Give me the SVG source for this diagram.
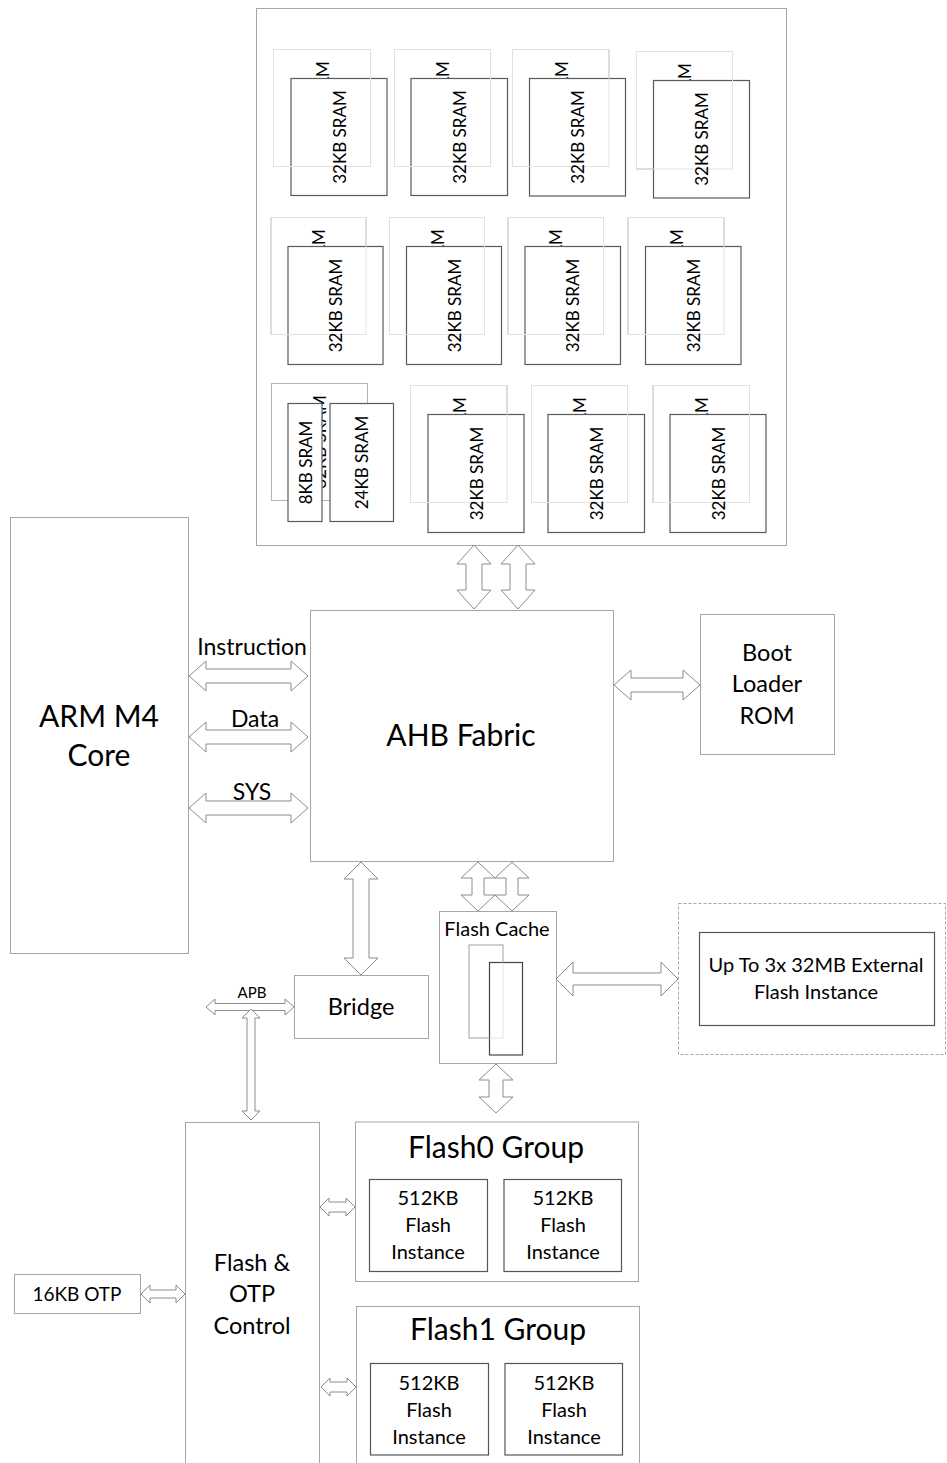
<svg xmlns="http://www.w3.org/2000/svg" width="947" height="1463" viewBox="0 0 947 1463">
<style>
text{font-family:Lato,"Open Sans","Liberation Sans",sans-serif;fill:#000;text-anchor:middle}
.box{fill:#fff;stroke:#a6a6a6;stroke-width:1}
.back{fill:#fff;stroke:#b3b3b3;stroke-width:1}
.ghost{fill:none;stroke:#e2e2e2;stroke-width:1}
.front{fill:#fff;stroke:#5a5a5a;stroke-width:1.2}
.dark{fill:#fff;stroke:#555;stroke-width:1.2}
.arr{fill:#fff;stroke:#8c8c8c;stroke-width:1}
.arrn{fill:none;stroke:#8c8c8c;stroke-width:1}
.sr{font-size:17px;dominant-baseline:central}
.big{font-size:30px}
.mid{font-size:23.5px}
.sm{font-size:20px}
</style>
<rect width="947" height="1463" fill="#fff"/>

<g id="sram-array">
<rect class="box" x="256.5" y="8.5" width="530" height="537"/>
<g id="sram-r1c1">
<rect class="back" x="273.5" y="49.5" width="97" height="117"/>
<text class="sr" transform="translate(322,108) rotate(-90)">32KB SRAM</text>
<rect class="front" x="291" y="78.5" width="96" height="117"/>
<rect class="ghost" x="273.5" y="49.5" width="97" height="117"/>
<text class="sr" transform="translate(339,137) rotate(-90)">32KB SRAM</text>
</g>
<g id="sram-r1c2">
<rect class="back" x="394.5" y="49.5" width="96" height="117"/>
<text class="sr" transform="translate(442.5,108) rotate(-90)">32KB SRAM</text>
<rect class="front" x="411" y="78.5" width="96.5" height="117"/>
<rect class="ghost" x="394.5" y="49.5" width="96" height="117"/>
<text class="sr" transform="translate(459,137) rotate(-90)">32KB SRAM</text>
</g>
<g id="sram-r1c3">
<rect class="back" x="512.5" y="49.5" width="96.5" height="117"/>
<text class="sr" transform="translate(561,108) rotate(-90)">32KB SRAM</text>
<rect class="front" x="529.5" y="78.5" width="96" height="117.5"/>
<rect class="ghost" x="512.5" y="49.5" width="96.5" height="117"/>
<text class="sr" transform="translate(577.5,137) rotate(-90)">32KB SRAM</text>
</g>
<g id="sram-r1c4">
<rect class="back" x="636.5" y="51.5" width="96" height="117.5"/>
<text class="sr" transform="translate(684.5,110) rotate(-90)">32KB SRAM</text>
<rect class="front" x="653.5" y="80.5" width="96" height="117.5"/>
<rect class="ghost" x="636.5" y="51.5" width="96" height="117.5"/>
<text class="sr" transform="translate(701.5,139) rotate(-90)">32KB SRAM</text>
</g>
<g id="sram-r2c1">
<rect class="back" x="271" y="217.5" width="95" height="117"/>
<text class="sr" transform="translate(318.5,276) rotate(-90)">32KB SRAM</text>
<rect class="front" x="288" y="246.5" width="95" height="118"/>
<rect class="ghost" x="271" y="217.5" width="95" height="117"/>
<text class="sr" transform="translate(335.5,305.5) rotate(-90)">32KB SRAM</text>
</g>
<g id="sram-r2c2">
<rect class="back" x="389.5" y="217.5" width="95" height="117"/>
<text class="sr" transform="translate(437,276) rotate(-90)">32KB SRAM</text>
<rect class="front" x="406.5" y="246.5" width="95" height="118"/>
<rect class="ghost" x="389.5" y="217.5" width="95" height="117"/>
<text class="sr" transform="translate(454,305.5) rotate(-90)">32KB SRAM</text>
</g>
<g id="sram-r2c3">
<rect class="back" x="508" y="217.5" width="95.5" height="117"/>
<text class="sr" transform="translate(555.5,276) rotate(-90)">32KB SRAM</text>
<rect class="front" x="525" y="246.5" width="95.5" height="118"/>
<rect class="ghost" x="508" y="217.5" width="95.5" height="117"/>
<text class="sr" transform="translate(572.5,305.5) rotate(-90)">32KB SRAM</text>
</g>
<g id="sram-r2c4">
<rect class="back" x="628" y="217.5" width="96" height="117"/>
<text class="sr" transform="translate(676,276) rotate(-90)">32KB SRAM</text>
<rect class="front" x="645.5" y="246.5" width="95.5" height="118"/>
<rect class="ghost" x="628" y="217.5" width="96" height="117"/>
<text class="sr" transform="translate(693,305.5) rotate(-90)">32KB SRAM</text>
</g>
<g id="sram-r3c1">
<rect class="back" x="271.5" y="383.5" width="96" height="117"/>
<text class="sr" transform="translate(319.5,442) rotate(-90)">32KB SRAM</text>
<rect class="front" x="288" y="403.5" width="34" height="118"/>
<rect class="front" x="330" y="403.5" width="63.5" height="118"/>
<text class="sr" transform="translate(305,462.5) rotate(-90)">8KB SRAM</text>
<text class="sr" transform="translate(361.5,462.5) rotate(-90)">24KB SRAM</text>
</g>
<g id="sram-r3c2">
<rect class="back" x="410.5" y="385.5" width="96.5" height="117"/>
<text class="sr" transform="translate(459,444) rotate(-90)">32KB SRAM</text>
<rect class="front" x="428" y="414.5" width="96" height="118"/>
<rect class="ghost" x="410.5" y="385.5" width="96.5" height="117"/>
<text class="sr" transform="translate(476,473.5) rotate(-90)">32KB SRAM</text>
</g>
<g id="sram-r3c3">
<rect class="back" x="531.5" y="385.5" width="96" height="117"/>
<text class="sr" transform="translate(579.5,444) rotate(-90)">32KB SRAM</text>
<rect class="front" x="548" y="414.5" width="96.5" height="118"/>
<rect class="ghost" x="531.5" y="385.5" width="96" height="117"/>
<text class="sr" transform="translate(596,473.5) rotate(-90)">32KB SRAM</text>
</g>
<g id="sram-r3c4">
<rect class="back" x="653" y="385.5" width="96.5" height="117"/>
<text class="sr" transform="translate(701,444) rotate(-90)">32KB SRAM</text>
<rect class="front" x="670" y="414.5" width="96" height="118"/>
<rect class="ghost" x="653" y="385.5" width="96.5" height="117"/>
<text class="sr" transform="translate(718,473.5) rotate(-90)">32KB SRAM</text>
</g>
</g>

<g id="arm-core">
<rect class="box" x="10.5" y="517.5" width="178" height="436"/>
<text class="big" x="99" y="727">ARM M4</text>
<text class="big" x="99" y="766">Core</text>
</g>

<g id="ahb-fabric">
<rect class="box" x="310.5" y="610.5" width="303" height="251"/>
<text class="big" x="461" y="746">AHB Fabric</text>
</g>

<g id="boot-rom">
<rect class="box" x="700.5" y="614.5" width="134" height="140"/>
<text class="mid" x="767" y="661">Boot</text>
<text class="mid" x="767" y="692">Loader</text>
<text class="mid" x="767" y="724">ROM</text>
</g>

<g id="bridge">
<rect class="box" x="294.5" y="975.5" width="134" height="63"/>
<text class="mid" x="361" y="1015">Bridge</text>
</g>

<g id="flash-cache">
<rect class="box" x="439.5" y="911.5" width="117" height="152"/>
<text class="sm" x="497" y="936">Flash Cache</text>
<rect x="469" y="945" width="34" height="93" fill="#fff" stroke="#a0a0a0"/>
<rect x="489.5" y="962.5" width="33" height="92.5" fill="#fff" stroke="#444" stroke-width="1.2"/>
<path d="M489.5 1038 H503 M503 962.5 V1038" fill="none" stroke="#e2e2e2"/>
</g>

<g id="external-flash">
<rect x="678.5" y="903.5" width="267" height="151" fill="none" stroke="#a6a6a6" stroke-dasharray="3,2"/>
<rect class="dark" x="699.5" y="932.5" width="235" height="93"/>
<text class="sm" x="816" y="972">Up To 3x 32MB External</text>
<text class="sm" x="816" y="999">Flash Instance</text>
</g>

<g id="flash-otp-control">
<rect class="box" x="185.5" y="1122.5" width="134" height="350"/>
<text class="mid" x="252" y="1271">Flash &amp;</text>
<text class="mid" x="252" y="1302">OTP</text>
<text class="mid" x="252" y="1334">Control</text>
</g>

<g id="otp">
<rect class="box" x="14.5" y="1274.5" width="126" height="39"/>
<text x="77" y="1301" font-size="19">16KB OTP</text>
</g>

<g id="flash0-group">
<rect class="box" x="355.5" y="1122" width="283" height="159.5"/>
<text class="big" x="496" y="1158">Flash0 Group</text>
<rect class="dark" x="369.5" y="1179.5" width="118" height="92"/>
<text class="sm" x="428" y="1205">512KB</text>
<text class="sm" x="428" y="1232">Flash</text>
<text class="sm" x="428" y="1259">Instance</text>
<rect class="dark" x="504" y="1179.5" width="117.5" height="92"/>
<text class="sm" x="563" y="1205">512KB</text>
<text class="sm" x="563" y="1232">Flash</text>
<text class="sm" x="563" y="1259">Instance</text>
</g>

<g id="flash1-group">
<rect class="box" x="356.5" y="1306.5" width="283" height="170"/>
<text class="big" x="498" y="1340">Flash1 Group</text>
<rect class="dark" x="370.5" y="1363.5" width="118" height="91.5"/>
<text class="sm" x="429" y="1390">512KB</text>
<text class="sm" x="429" y="1417">Flash</text>
<text class="sm" x="429" y="1444">Instance</text>
<rect class="dark" x="505" y="1363.5" width="117.5" height="91.5"/>
<text class="sm" x="564" y="1390">512KB</text>
<text class="sm" x="564" y="1417">Flash</text>
<text class="sm" x="564" y="1444">Instance</text>
</g>

<g id="connectors">
<path class="arr" d="M474 545 L491 564 L482 564 L482 590 L491 590 L474 609 L457 590 L466 590 L466 564 L457 564 Z"/>
<path class="arr" d="M518 545 L535 564 L526 564 L526 590 L535 590 L518 609 L501 590 L510 590 L510 564 L501 564 Z"/>
<path class="arr" d="M189 676 L206 661 L206 669 L291 669 L291 661 L308 676 L291 691 L291 683 L206 683 L206 691 Z"/>
<path class="arr" d="M189 737 L206 722 L206 730 L291 730 L291 722 L308 737 L291 752 L291 744 L206 744 L206 752 Z"/>
<path class="arr" d="M189 808 L206 793 L206 801 L291 801 L291 793 L308 808 L291 823 L291 815 L206 815 L206 823 Z"/>
<path class="arr" d="M614 685 L631 670 L631 678 L683 678 L683 670 L700 685 L683 700 L683 692 L631 692 L631 700 Z"/>
<path class="arr" d="M361 862 L378 879 L369 879 L369 958 L378 958 L361 975 L344 958 L353 958 L353 879 L344 879 Z"/>
<path class="arrn" d="M478 862 L495 878 L484 878 L484 895 L495 895 L478 911 L461 895 L472 895 L472 878 L461 878 Z"/>
<path class="arrn" d="M512 862 L529 878 L518 878 L518 895 L529 895 L512 911 L495 895 L506 895 L506 878 L495 878 Z"/>
<path class="arr" d="M556 979 L573 962 L573 973 L661 973 L661 962 L678 979 L661 996 L661 985 L573 985 L573 996 Z"/>
<path class="arr" d="M496 1064 L513 1080 L503 1080 L503 1097 L513 1097 L496 1113 L479 1097 L489 1097 L489 1080 L479 1080 Z"/>
<path class="arr" d="M206 1007 L215 999 L215 1003.5 L285 1003.5 L285 999 L294 1007 L285 1015 L285 1010.5 L215 1010.5 L215 1015 Z"/>
<path class="arr" d="M251 1009 L260 1018 L255 1018 L255 1111 L260 1111 L251 1120 L242 1111 L247 1111 L247 1018 L242 1018 Z"/>
<path class="arr" d="M141 1294 L150 1285 L150 1290 L176 1290 L176 1285 L185 1294 L176 1303 L176 1298 L150 1298 L150 1303 Z"/>
<path class="arr" d="M320 1207 L329 1198 L329 1202 L346 1202 L346 1198 L355 1207 L346 1216 L346 1212 L329 1212 L329 1216 Z"/>
<path class="arr" d="M321 1387 L330 1378 L330 1382 L347 1382 L347 1378 L356 1387 L347 1396 L347 1392 L330 1392 L330 1396 Z"/>
<text x="252" y="655" font-size="23">Instruction</text>
<text x="255" y="727" font-size="23">Data</text>
<text x="252" y="800" font-size="23">SYS</text>
<text x="252" y="998" font-size="15">APB</text>
</g>
</svg>
